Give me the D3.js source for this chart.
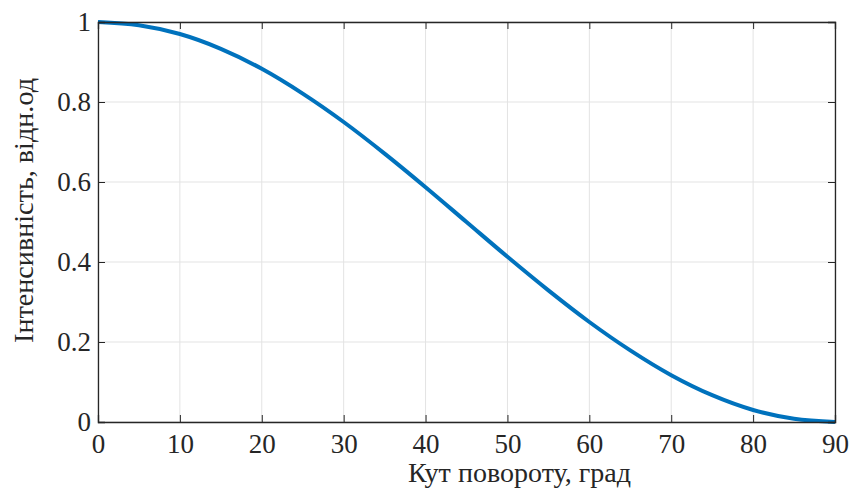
<!DOCTYPE html>
<html><head><meta charset="utf-8">
<script src="https://cdn.jsdelivr.net/npm/d3@7"></script>
<style>body{margin:0;background:#fff}svg{display:block}text{font-family:"Liberation Serif","Times New Roman",serif;fill:#262626}</style>
</head><body><svg id="c" width="850" height="488"></svg>
<script>
const angles = [0,5,10,15,20,25,30,35,40,45,50,55,60,65,70,75,80,85,90];
const intensity = [1.0,0.992,0.970,0.933,0.883,0.821,0.750,0.671,0.587,0.500,0.413,0.329,0.250,0.179,0.117,0.067,0.030,0.008,0.0];
const xTicks = [0,10,20,30,40,50,60,70,80,90];
const yTicks = [0,0.2,0.4,0.6,0.8,1];
const yTickLabels = ["0","0.2","0.4","0.6","0.8","1"];

const svg = d3.select("#c");
const L=98,R=835,T=22,B=422;
const x = d3.scaleLinear().domain([0,90]).range([L,R]);
const y = d3.scaleLinear().domain([0,1]).range([B,T]);

const g = svg.append("g");
g.selectAll(".gx").data(xTicks).enter().append("line")
 .attr("x1",d=>x(d)).attr("x2",d=>x(d)).attr("y1",T).attr("y2",B)
 .attr("stroke","#e3e3e3").attr("stroke-width",1);
g.selectAll(".gy").data(yTicks).enter().append("line")
 .attr("x1",L).attr("x2",R).attr("y1",d=>y(d)).attr("y2",d=>y(d))
 .attr("stroke","#e3e3e3").attr("stroke-width",1);

const line = d3.line().x((d,i)=>x(angles[i])).y(d=>y(d)).curve(d3.curveMonotoneX);
svg.append("path").datum(intensity).attr("d",line).attr("fill","none")
 .attr("stroke","#0072BD").attr("stroke-width",4);

const ax = d3.axisBottom(x).tickValues(xTicks).tickSize(-7).tickPadding(12).tickFormat(d3.format("d"));
const ay = d3.axisLeft(y).tickValues(yTicks).tickSize(-7).tickPadding(7).tickFormat((d,i)=>yTickLabels[i]);
const axT = d3.axisTop(x).tickValues(xTicks).tickSize(-7).tickFormat("");
const ayR = d3.axisRight(y).tickValues(yTicks).tickSize(-7).tickFormat("");

function style(sel){
  sel.attr("font-family","'Liberation Serif','Times New Roman',serif");
  sel.selectAll("path").attr("stroke","#262626").attr("stroke-width",1.3);
  sel.selectAll("line").attr("stroke","#262626").attr("stroke-width",1);
  sel.selectAll("text").attr("font-size",27).attr("fill","#262626");
}
svg.append("g").attr("transform",`translate(0,${B})`).call(ax).call(style);
svg.append("g").attr("transform",`translate(${L},0)`).call(ay).call(style);
svg.append("g").attr("transform",`translate(0,${T})`).call(axT).call(style);
svg.append("g").attr("transform",`translate(${R},0)`).call(ayR).call(style);

svg.append("text").attr("x",519.5).attr("y",482).attr("text-anchor","middle")
 .attr("font-size",27).attr("textLength",223).attr("lengthAdjust","spacingAndGlyphs").text("Кут повороту, град");
svg.append("text").attr("transform",`translate(33,210.5) rotate(-90)`).attr("text-anchor","middle")
 .attr("font-size",27).attr("textLength",265).attr("lengthAdjust","spacingAndGlyphs").text("Інтенсивність, відн.од");
</script></body></html>
